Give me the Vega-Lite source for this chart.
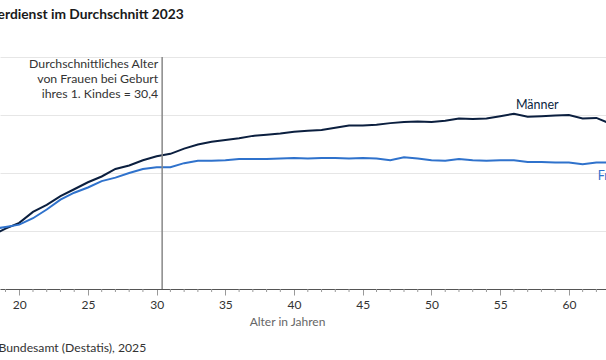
{
  "$schema": "https://vega.github.io/schema/vega-lite/v6.json",
  "width": 606,
  "height": 232,
  "autosize": {"type": "none"},
  "padding": {"left": 0, "top": 57, "right": 0, "bottom": 71},
  "background": "white",
  "config": {
    "font": "Lato",
    "view": {"stroke": null}
  },
  "title": {
    "text": "Bruttostundenverdienst im Durchschnitt 2023",
    "anchor": "start",
    "frame": "group",
    "font": "Lato",
    "fontSize": 13.8,
    "fontWeight": "bold",
    "color": "#1a1a1a",
    "offset": 34,
    "dx": -98.5
  },
  "datasets": {
    "earnings": [
      {"age": 18, "sex": "Männer", "value": 9.2},
      {"age": 19, "sex": "Männer", "value": 10.4},
      {"age": 20, "sex": "Männer", "value": 11.4},
      {"age": 21, "sex": "Männer", "value": 13.3},
      {"age": 22, "sex": "Männer", "value": 14.5},
      {"age": 23, "sex": "Männer", "value": 16.0},
      {"age": 24, "sex": "Männer", "value": 17.2},
      {"age": 25, "sex": "Männer", "value": 18.4},
      {"age": 26, "sex": "Männer", "value": 19.4},
      {"age": 27, "sex": "Männer", "value": 20.7},
      {"age": 28, "sex": "Männer", "value": 21.3},
      {"age": 29, "sex": "Männer", "value": 22.2},
      {"age": 30, "sex": "Männer", "value": 22.9},
      {"age": 31, "sex": "Männer", "value": 23.3},
      {"age": 32, "sex": "Männer", "value": 24.2},
      {"age": 33, "sex": "Männer", "value": 24.9},
      {"age": 34, "sex": "Männer", "value": 25.4},
      {"age": 35, "sex": "Männer", "value": 25.7},
      {"age": 36, "sex": "Männer", "value": 26.0},
      {"age": 37, "sex": "Männer", "value": 26.4},
      {"age": 38, "sex": "Männer", "value": 26.6},
      {"age": 39, "sex": "Männer", "value": 26.8},
      {"age": 40, "sex": "Männer", "value": 27.1},
      {"age": 41, "sex": "Männer", "value": 27.3},
      {"age": 42, "sex": "Männer", "value": 27.4},
      {"age": 43, "sex": "Männer", "value": 27.8},
      {"age": 44, "sex": "Männer", "value": 28.2},
      {"age": 45, "sex": "Männer", "value": 28.2},
      {"age": 46, "sex": "Männer", "value": 28.3},
      {"age": 47, "sex": "Männer", "value": 28.6},
      {"age": 48, "sex": "Männer", "value": 28.8},
      {"age": 49, "sex": "Männer", "value": 28.9},
      {"age": 50, "sex": "Männer", "value": 28.8},
      {"age": 51, "sex": "Männer", "value": 29.0},
      {"age": 52, "sex": "Männer", "value": 29.4},
      {"age": 53, "sex": "Männer", "value": 29.3},
      {"age": 54, "sex": "Männer", "value": 29.4},
      {"age": 55, "sex": "Männer", "value": 29.8},
      {"age": 56, "sex": "Männer", "value": 30.2},
      {"age": 57, "sex": "Männer", "value": 29.7},
      {"age": 58, "sex": "Männer", "value": 29.8},
      {"age": 59, "sex": "Männer", "value": 29.9},
      {"age": 60, "sex": "Männer", "value": 30.0},
      {"age": 61, "sex": "Männer", "value": 29.4},
      {"age": 62, "sex": "Männer", "value": 29.5},
      {"age": 63, "sex": "Männer", "value": 28.5},
      {"age": 18, "sex": "Frauen", "value": 10.3},
      {"age": 19, "sex": "Frauen", "value": 10.7},
      {"age": 20, "sex": "Frauen", "value": 11.1},
      {"age": 21, "sex": "Frauen", "value": 12.2},
      {"age": 22, "sex": "Frauen", "value": 13.7},
      {"age": 23, "sex": "Frauen", "value": 15.4},
      {"age": 24, "sex": "Frauen", "value": 16.6},
      {"age": 25, "sex": "Frauen", "value": 17.5},
      {"age": 26, "sex": "Frauen", "value": 18.6},
      {"age": 27, "sex": "Frauen", "value": 19.2},
      {"age": 28, "sex": "Frauen", "value": 20.0},
      {"age": 29, "sex": "Frauen", "value": 20.7},
      {"age": 30, "sex": "Frauen", "value": 21.0},
      {"age": 31, "sex": "Frauen", "value": 21.0},
      {"age": 32, "sex": "Frauen", "value": 21.7},
      {"age": 33, "sex": "Frauen", "value": 22.1},
      {"age": 34, "sex": "Frauen", "value": 22.1},
      {"age": 35, "sex": "Frauen", "value": 22.2},
      {"age": 36, "sex": "Frauen", "value": 22.4},
      {"age": 37, "sex": "Frauen", "value": 22.4},
      {"age": 38, "sex": "Frauen", "value": 22.4},
      {"age": 39, "sex": "Frauen", "value": 22.5},
      {"age": 40, "sex": "Frauen", "value": 22.6},
      {"age": 41, "sex": "Frauen", "value": 22.5},
      {"age": 42, "sex": "Frauen", "value": 22.6},
      {"age": 43, "sex": "Frauen", "value": 22.6},
      {"age": 44, "sex": "Frauen", "value": 22.5},
      {"age": 45, "sex": "Frauen", "value": 22.6},
      {"age": 46, "sex": "Frauen", "value": 22.5},
      {"age": 47, "sex": "Frauen", "value": 22.2},
      {"age": 48, "sex": "Frauen", "value": 22.7},
      {"age": 49, "sex": "Frauen", "value": 22.5},
      {"age": 50, "sex": "Frauen", "value": 22.2},
      {"age": 51, "sex": "Frauen", "value": 22.1},
      {"age": 52, "sex": "Frauen", "value": 22.4},
      {"age": 53, "sex": "Frauen", "value": 22.2},
      {"age": 54, "sex": "Frauen", "value": 22.1},
      {"age": 55, "sex": "Frauen", "value": 22.2},
      {"age": 56, "sex": "Frauen", "value": 22.2},
      {"age": 57, "sex": "Frauen", "value": 21.9},
      {"age": 58, "sex": "Frauen", "value": 21.9},
      {"age": 59, "sex": "Frauen", "value": 21.8},
      {"age": 60, "sex": "Frauen", "value": 21.8},
      {"age": 61, "sex": "Frauen", "value": 21.5},
      {"age": 62, "sex": "Frauen", "value": 21.8},
      {"age": 63, "sex": "Frauen", "value": 21.8}
    ],
    "minorTicks": [
      {"age": 19}, {"age": 21}, {"age": 22}, {"age": 23}, {"age": 24},
      {"age": 26}, {"age": 27}, {"age": 28}, {"age": 29},
      {"age": 31}, {"age": 32}, {"age": 33}, {"age": 34},
      {"age": 36}, {"age": 37}, {"age": 38}, {"age": 39},
      {"age": 41}, {"age": 42}, {"age": 43}, {"age": 44},
      {"age": 46}, {"age": 47}, {"age": 48}, {"age": 49},
      {"age": 51}, {"age": 52}, {"age": 53}, {"age": 54},
      {"age": 56}, {"age": 57}, {"age": 58}, {"age": 59},
      {"age": 61}, {"age": 62}
    ],
    "note": [
      {"age": 30.4, "text": ["Durchschnittliches Alter", "von Frauen bei Geburt", "ihres 1. Kindes = 30,4"]}
    ],
    "source": [
      {"text": "Quelle: Statistisches Bundesamt (Destatis), 2025"}
    ]
  },
  "layer": [
    {
      "data": {"name": "earnings"},
      "mark": {"type": "line", "strokeWidth": 2, "clip": true, "interpolate": "linear"},
      "encoding": {
        "x": {
          "field": "age",
          "type": "quantitative",
          "scale": {"domain": [18.6, 62.7], "nice": false, "zero": false},
          "axis": {
            "title": "Alter in Jahren",
            "values": [20, 25, 30, 35, 40, 45, 50, 55, 60],
            "format": "d",
            "labelOverlap": false,
            "tickSize": 6,
            "tickColor": "#999999",
            "domainColor": "#555555",
            "domainWidth": 1,
            "grid": false,
            "labelFontSize": 12,
            "labelColor": "#333333",
            "labelPadding": 4,
            "labelFlush": false,
            "titleFontSize": 12,
            "titleFontWeight": "normal",
            "titleColor": "#666666",
            "titlePadding": 6,
            "titleX": 287
          }
        },
        "y": {
          "field": "value",
          "type": "quantitative",
          "scale": {"domain": [0, 40], "nice": false},
          "axis": {
            "title": null,
            "values": [0, 10, 20, 30, 40],
            "labels": false,
            "ticks": false,
            "domain": false,
            "grid": true,
            "gridColor": "#e6e6e6",
            "gridWidth": 1
          }
        },
        "color": {
          "field": "sex",
          "type": "nominal",
          "scale": {"domain": ["Männer", "Frauen"], "range": ["#0b1f3f", "#2f72cc"]},
          "legend": null
        }
      }
    },
    {
      "data": {"name": "minorTicks"},
      "mark": {"type": "tick", "orient": "vertical", "size": 3, "thickness": 1, "color": "#999999", "yOffset": 1.5, "opacity": 1},
      "encoding": {
        "x": {"field": "age", "type": "quantitative"},
        "y": {"datum": 0}
      }
    },
    {
      "data": {"name": "note"},
      "mark": {"type": "rule", "color": "#888888", "strokeWidth": 1.5},
      "encoding": {
        "x": {"field": "age", "type": "quantitative"},
        "y": {"datum": 40},
        "y2": {"datum": 0}
      }
    },
    {
      "data": {"name": "note"},
      "mark": {"type": "text", "align": "right", "baseline": "middle", "dx": -4, "dy": 7, "fontSize": 12.3, "lineHeight": 15, "color": "#333333"},
      "encoding": {
        "x": {"field": "age", "type": "quantitative"},
        "y": {"datum": 40},
        "text": {"field": "text"}
      }
    },
    {
      "data": {"values": [{"label": "Männer"}]},
      "mark": {"type": "text", "align": "center", "baseline": "middle", "fontSize": 12.5, "color": "#0b1f3f"},
      "encoding": {
        "x": {"datum": 57.7},
        "y": {"datum": 31.8},
        "text": {"field": "label"}
      }
    },
    {
      "data": {"values": [{"label": "Frauen"}]},
      "mark": {"type": "text", "align": "left", "baseline": "middle", "fontSize": 12.5, "color": "#2f72cc", "clip": false},
      "encoding": {
        "x": {"datum": 62.1},
        "y": {"datum": 19.5},
        "text": {"field": "label"}
      }
    },
    {
      "data": {"name": "source"},
      "mark": {"type": "text", "align": "left", "baseline": "middle", "fontSize": 12.2, "dx": -112.5, "color": "#333333", "clip": false},
      "encoding": {
        "x": {"datum": 18.6},
        "y": {"datum": -10.2},
        "text": {"field": "text"}
      }
    }
  ]
}
